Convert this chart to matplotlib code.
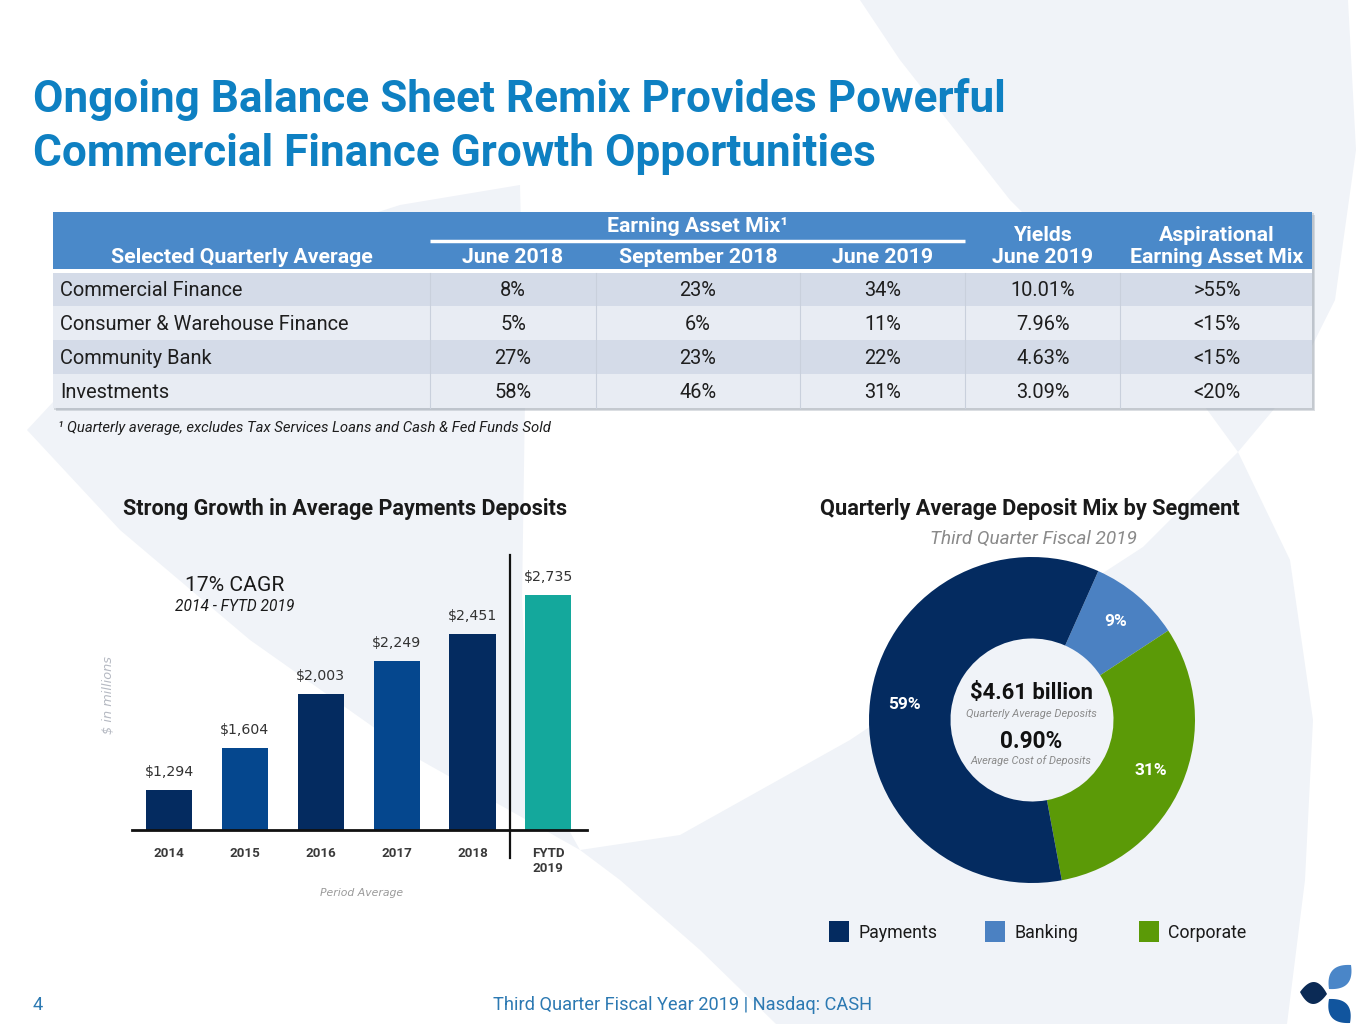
import matplotlib
matplotlib.use('Agg')
import matplotlib.pyplot as plt
import numpy as np
from matplotlib import font_manager as fm
from matplotlib.patches import Rectangle, Polygon

# ---------------- data ----------------
title_lines = ['Ongoing Balance Sheet Remix Provides Powerful',
               'Commercial Finance Growth Opportunities']
col_headers = ['June 2018', 'September 2018', 'June 2019']
row_labels = ['Commercial Finance', 'Consumer & Warehouse Finance', 'Community Bank', 'Investments']
jun2018 = ['8%', '5%', '27%', '58%']
sep2018 = ['23%', '6%', '23%', '46%']
jun2019 = ['34%', '11%', '22%', '31%']
yields_jun2019 = ['10.01%', '7.96%', '4.63%', '3.09%']
aspirational = ['>55%', '<15%', '<15%', '<20%']
footnote = '\u00b9 Quarterly average, excludes Tax Services Loans and Cash & Fed Funds Sold'

bar_years = ['2014', '2015', '2016', '2017', '2018', 'FYTD\n2019']
bar_values = [1294, 1604, 2003, 2249, 2451, 2735]
bar_labels = ['$1,294', '$1,604', '$2,003', '$2,249', '$2,451', '$2,735']

seg_names = ['Payments', 'Banking', 'Corporate']
seg_share = [59, 9, 31]
seg_labels = ['59%', '9%', '31%']

# ---------------- style ----------------
names = {f.name for f in fm.fontManager.ttflist}
NARROW = 'Liberation Sans Narrow' if 'Liberation Sans Narrow' in names else 'Roboto'
SANS = 'Roboto'
TITLE_BLUE = '#0e80c2'
NAVY = '#042b60'
MIDBLUE = '#05478e'
TEAL = '#14a89c'
BANK = '#4b81c2'
GREEN = '#5b9a07'
HEADER = '#4a89c9'
PALE = '#f0f3f8'
FOOT = '#2c79b2'

fig = plt.figure(figsize=(13.65, 10.24), dpi=100)
fig.patch.set_facecolor('white')
bg = fig.add_axes([0, 0, 1, 1], zorder=0)
bg.set_xlim(0, 1365)
bg.set_ylim(1024, 0)
bg.axis('off')
R = fig.canvas.get_renderer()


def fit(t, width, vertical=False):
    bb = t.get_window_extent(R)
    w = bb.height if vertical else bb.width
    t.set_fontsize(t.get_fontsize() * width / w)
    return t


def T(x, y, s, width=None, size=12, **kw):
    kw.setdefault('va', 'baseline')
    t = bg.text(x, y, s, fontsize=size, **kw)
    if width:
        fit(t, width)
    return t


def lens(p0, p1, bulge, n=60):
    p0 = np.array(p0, float); p1 = np.array(p1, float)
    d = p1 - p0
    nrm = np.array([-d[1], d[0]]) / np.hypot(*d)
    t = np.linspace(0, 1, n)[:, None]
    c1 = (p0 + p1) / 2 + nrm * bulge * 2
    c2 = (p0 + p1) / 2 - nrm * bulge * 2
    a = (1 - t) ** 2 * p0 + 2 * (1 - t) * t * c1 + t ** 2 * p1
    b = (1 - t) ** 2 * p1 + 2 * (1 - t) * t * c2 + t ** 2 * p0
    return np.vstack([a, b])


# ---------------- background (faint logo petals) ----------------
left_petal = [(27, 430), (120, 330), (260, 250), (400, 205), (520, 185), (525, 400),
              (522, 600), (530, 760), (580, 850), (420, 760), (250, 640), (120, 530)]
upper_petal = [(1238, 452), (1200, 400), (1130, 320), (1010, 200), (900, 60), (860, 0),
               (1348, 0), (1356, 150), (1335, 300), (1290, 390)]
lower_petal = [(1238, 452), (1290, 560), (1313, 720), (1305, 880), (1287, 1024), (776, 1024),
               (700, 950), (620, 880), (580, 850), (680, 835), (850, 740), (1000, 640),
               (1143, 547)]
for poly in [left_petal, upper_petal, lower_petal]:
    bg.add_patch(Polygon(poly, closed=True, fc=PALE, ec='none', zorder=0))

# ---------------- title ----------------
t1 = T(33, 112, title_lines[0], 972, family=SANS, weight='bold', color=TITLE_BLUE)
T(33, 166, title_lines[1], None, size=t1.get_fontsize(), family=SANS, weight='bold', color=TITLE_BLUE)

# ---------------- table ----------------
L, Rt = 53, 1312
bg.add_patch(Rectangle((L + 3, 215), Rt - L, 196, fc='#9aa3ad', ec='none', alpha=0.35, zorder=1))
bg.add_patch(Rectangle((L + 1, 213), Rt - L + 1, 197, fc='#9aa3ad', ec='none', alpha=0.35, zorder=1))
bg.add_patch(Rectangle((L, 212), Rt - L, 57, fc=HEADER, ec='none', zorder=2))
bg.add_patch(Rectangle((L, 269), Rt - L, 4, fc='white', ec='none', zorder=2))
row_tops = [273, 306, 340, 374]
row_h = [33, 34, 34, 34]
for i, (top, h) in enumerate(zip(row_tops, row_h)):
    bg.add_patch(Rectangle((L, top), Rt - L, h, fc='#d4dbe8' if i % 2 == 0 else '#e8ecf3',
                           ec='none', zorder=2))
for xs in [430, 596, 800, 965, 1120]:
    bg.plot([xs, xs], [273, 408], color='#c9d0dc', lw=0.8, zorder=3)
bg.plot([430, 965], [241, 241], color='white', lw=2.5, zorder=3, solid_capstyle='butt')

hk = dict(family=NARROW, weight='bold', color='white', ha='center', zorder=4)
th = T(242, 263, 'Selected Quarterly Average', 262, **hk)
hs = th.get_fontsize()
T(698, 232, 'Earning Asset Mix\u00b9', None, size=hs, **hk)
for xc, s in zip([513, 698, 883], col_headers):
    T(xc, 263, s, None, size=hs, **hk)
T(1043, 241, 'Yields', None, size=hs, **hk)
T(1043, 263, 'June 2019', None, size=hs, **hk)
T(1217, 241, 'Aspirational', None, size=hs, **hk)
T(1217, 263, 'Earning Asset Mix', None, size=hs, **hk)

rk = dict(family=NARROW, color='#1e1e1e', zorder=4)
tr = T(60, 330, row_labels[1], 289, **rk)
rs = tr.get_fontsize()
baselines = [296, 330, 364, 398]
for i, yb in enumerate(baselines):
    if i != 1:
        T(60, yb, row_labels[i], None, size=rs, **rk)
    for xc, col in zip([513, 698, 883, 1043, 1217],
                       [jun2018, sep2018, jun2019, yields_jun2019, aspirational]):
        T(xc, yb, col[i], None, size=rs, ha='center', **rk)

T(58, 432, footnote, 493, family=NARROW, style='italic', color='#1e1e1e', zorder=4)

# ---------------- bar chart ----------------
ax = fig.add_axes([132 / 1365, 1 - 830 / 1024, (587 - 132) / 1365, (830 - 555) / 1024], zorder=2)
ax.patch.set_alpha(0)
x = np.arange(len(bar_values))
bar_colors = [NAVY, MIDBLUE, NAVY, MIDBLUE, NAVY, TEAL]
ax.bar(x, bar_values, width=0.61, color=bar_colors, zorder=2)
ax.set_xlim(-0.49, 5.51)
ax.set_ylim(1000, 1000 + 275 / 0.1354)
for s in ['top', 'right', 'left']:
    ax.spines[s].set_visible(False)
ax.spines['bottom'].set_linewidth(2)
ax.spines['bottom'].set_color('#111111')
ax.set_yticks([])
ax.set_xticks(x)
ax.set_xticklabels(bar_years, family=SANS, weight='bold', color='#3a3a3a', fontsize=9.6,
                   linespacing=1.25)
ax.tick_params(axis='x', length=0, pad=12)
for xi, v, lab in zip(x, bar_values, bar_labels):
    ax.annotate(lab, (xi, v), xytext=(0, 10), textcoords='offset points', ha='center',
                va='baseline', family='DejaVu Sans', fontsize=10.2, color='#333333')
ax.axvline(4.5, ymin=-0.1, ymax=1.0, color='#111111', lw=1.6, clip_on=False, zorder=3)

T(345, 515, 'Strong Growth in Average Payments Deposits', 444, family=SANS, weight='bold',
  color='#1a1a1a', ha='center')
T(235, 591, '17% CAGR', 99, family=NARROW, color='#1a1a1a', ha='center')
T(235, 611, '2014 - FYTD 2019', 119, family=NARROW, style='italic', color='#1a1a1a', ha='center')
T(362, 896, 'Period Average', 83, family='DejaVu Sans', style='italic', color='#9a9a9a', ha='center')
tv = bg.text(108, 695, '$ in millions', rotation=90, family='DejaVu Sans', style='italic',
             color='#b5b9c2', ha='center', va='center', fontsize=10)
fit(tv, 78, vertical=True)

# ---------------- donut ----------------
cx, cy, rad = 1032, 720, 163
ax2 = fig.add_axes([(cx - rad) / 1365, 1 - (cy + rad) / 1024, 2 * rad / 1365, 2 * rad / 1024], zorder=2)
ax2.patch.set_alpha(0)
order = [1, 2, 0]  # Banking, Corporate, Payments clockwise from top-right
seg_colors = [NAVY, BANK, GREEN]
wedges, _ = ax2.pie([seg_share[i] for i in order], colors=[seg_colors[i] for i in order],
                    startangle=66, counterclock=False, radius=1,
                    wedgeprops=dict(width=0.5, edgecolor='none'))
ax2.set_xlim(-1, 1)
ax2.set_ylim(-1, 1)
ax2.set_aspect('equal')
ax2.axis('off')
for w, i in zip(wedges, order):
    ang = np.deg2rad((w.theta1 + w.theta2) / 2)
    ax2.text(0.79 * np.cos(ang), 0.79 * np.sin(ang), seg_labels[i], ha='center', va='center',
             family=SANS, weight='bold', color='white', fontsize=12.5)

T(1030, 515, 'Quarterly Average Deposit Mix by Segment', 420, family=SANS, weight='bold',
  color='#1a1a1a', ha='center')
T(1033, 544, 'Third Quarter Fiscal 2019', 206, family=SANS, style='italic', color='#8a8a8a',
  ha='center')
T(1031, 699, '$4.61 billion', 122, family=SANS, weight='bold', color='#111111', ha='center', zorder=5)
T(1031, 717, 'Quarterly Average Deposits', 130, family=NARROW, style='italic', color='#8a8a8a',
  ha='center', zorder=5)
T(1031, 748, '0.90%', 62, family=SANS, weight='bold', color='#111111', ha='center', zorder=5)
T(1031, 764, 'Average Cost of Deposits', 120, family=NARROW, style='italic', color='#8a8a8a',
  ha='center', zorder=5)

# legend
leg_x = [829, 985, 1139]
tl = None
for lx, nm, col in zip(leg_x, seg_names, seg_colors):
    bg.add_patch(Rectangle((lx, 921), 20, 21, fc=col, ec='none', zorder=3))
    if tl is None:
        tl = T(lx + 29, 938, nm, 79, family=NARROW, color='#1a1a1a')
    else:
        T(lx + 29, 938, nm, None, size=tl.get_fontsize(), family=NARROW, color='#1a1a1a')

# ---------------- footer ----------------
tf = T(683, 1010, 'Third Quarter Fiscal Year 2019 | Nasdaq: CASH', 379, family=NARROW,
       color=FOOT, ha='center')
T(33, 1010, '4', None, size=tf.get_fontsize(), family=NARROW, color=FOOT)

# logo
for p0, p1, bl, col in [((1327, 994), (1300, 992), 11, '#0b2a55'),
                        ((1329, 989), (1351, 965), 10, '#4a86c8'),
                        ((1329, 999), (1350, 1023), 10, '#11559e')]:
    bg.add_patch(Polygon(lens(p0, p1, bl), closed=True, fc=col, ec='none', zorder=3))

fig.savefig('out.png', dpi=100, facecolor='white')
